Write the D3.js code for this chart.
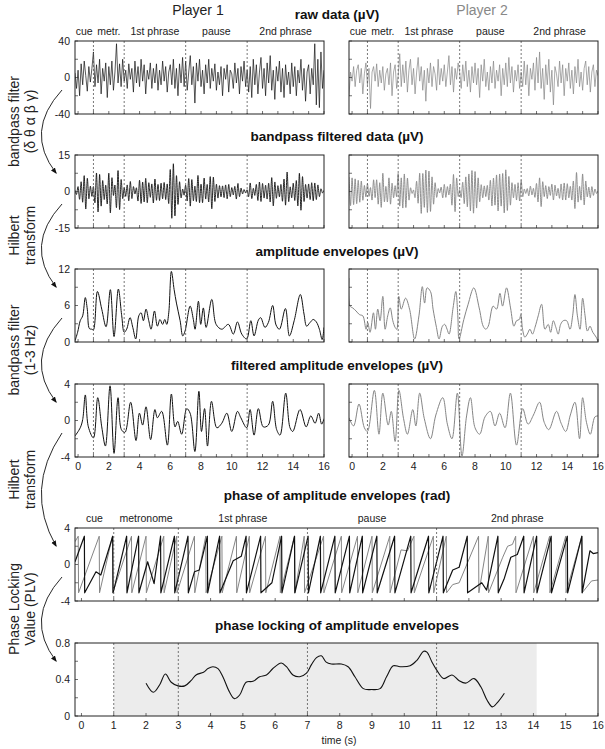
<!DOCTYPE html>
<head>
<meta charset="UTF-8">
<style>
  *{ margin: 0px; }
  svg{ font-family: "Liberation Sans", Arial, sans-serif; }
</style>
<script src="https://cdn.jsdelivr.net/npm/d3@7"></script>
</head>
<body style="background-color: white">
<svg id="fig" width="605" height="749"></svg>
<script>
// ---------- data ----------
var segments = ["cue", "metr.", "1st phrase", "pause", "2nd phrase"];
var segmentsLong = ["cue", "metronome", "1st phrase", "pause", "2nd phrase"];
var segCenters = [0.4, 2, 5, 9, 13.5];
var borders = [1, 3, 7, 11];

// raw data, one value every 0.1 s from -0.2 s
var raw1 = [5,-12,8,-20,15,-8,18,2,-15,12,-5,10,
  28,-10,14,-6,20,-18,10,-4,16,-22,
  12,-8,18,-14,6,37,-6,15,-10,20,
  -4,8,-12,15,-2,10,-16,18,-6,12,
  -10,20,-4,14,-18,8,-2,16,-12,10,
  -6,15,-14,8,-8,18,-4,12,-16,6,
  14,-8,20,-12,10,-20,15,-6,22,-10,
  18,-14,6,24,-8,12,-28,16,-4,20,
  -10,8,-18,14,-6,20,-12,10,-4,15,
  -14,6,-8,12,-20,10,-2,14,-16,8,
  4,-12,16,-6,10,-18,12,-4,18,-10,
  8,-16,12,-22,20,-8,14,-18,6,22,
  -12,10,-20,16,-6,24,-14,8,-24,12,
  -4,18,-16,10,-22,14,-8,6,-18,16,
  -10,12,-20,8,-6,20,-14,10,-26,6,
  14,-18,10,-8,37,-30,20,-33,28,-12,
  8];
var raw2 = [-20,6,-4,12,-10,8,14,-6,10,-18,4,16,
  -8,10,-34,6,12,-4,15,-10,8,-6,
  12,-14,4,10,-8,16,-20,6,14,-12,
  2,26,-10,14,-6,18,-16,8,20,-8,
  10,-18,6,22,-4,12,-14,8,-26,10,
  -6,16,-10,12,4,-14,20,-8,10,-4,
  14,-10,6,24,-8,12,-16,10,-2,16,
  6,-12,14,-4,18,-10,8,-16,12,-6,
  16,-8,10,-22,14,-4,20,-10,6,-14,
  12,-6,18,-12,8,-4,14,-20,10,-8,
  16,-10,22,-6,12,-16,8,-4,14,-12,
  6,-10,18,-8,14,-20,10,-2,16,-14,
  22,-6,28,-12,10,-24,14,-8,20,-16,
  8,-30,12,4,-10,18,-6,14,-20,10,
  -4,16,-12,8,-18,12,-6,20,-10,6,
  -14,10,18,-8,12,-16,6,14,-10,8,
  2];

// bandpass filtered data: successive extrema, every 0.1 s from -0.2 s
var band1 = [0.5,-1.2,2.0,-3.2,4.0,-4.4,6.5,-7.2,5.4,-3.0,2.2,-2.0,
  2.0,-4.6,7.6,-8.4,7.0,-6.0,4.5,-3.3,2.6,-5.1,
  7.5,-8.8,5.6,-1.6,2.6,-6.6,8.6,-7.4,4.9,-2.9,
  1.6,-2.0,2.7,-3.8,4.1,-2.9,2.0,-1.0,1.5,-3.9,
  4.6,-4.9,3.9,-4.3,5.4,-4.6,3.6,-2.4,3.1,-4.7,
  5.1,-3.6,2.9,-3.7,3.4,-3.0,3.7,-3.3,3.1,-4.9,
  9.0,-11.0,11.4,-10.0,6.5,-5.3,4.0,-2.6,1.0,-1.5,
  2.6,-3.9,5.3,-6.0,4.9,-3.8,2.2,-4.1,6.6,-4.6,
  3.0,-4.6,5.5,-3.1,2.9,-4.3,6.1,-7.1,5.9,-4.1,
  3.0,-2.7,2.4,-2.2,2.3,-2.5,2.7,-3.0,2.9,-2.1,
  1.6,-1.4,2.1,-3.1,3.3,-2.1,1.4,-1.0,0.8,-0.6,
  0.7,-2.1,3.5,-2.9,1.3,-1.6,2.9,-3.7,3.9,-4.1,
  3.3,-2.7,2.6,-3.1,3.4,-4.3,5.7,-5.9,3.9,-2.8,
  2.4,-2.2,2.9,-4.0,5.1,-5.6,8.0,-4.1,1.9,-2.6,
  3.4,-3.7,4.5,-5.9,7.5,-7.7,6.1,-4.1,2.9,-2.7,
  3.1,-3.3,3.6,-3.8,3.5,-3.3,2.7,-2.1,1.1,-0.6,
  0.5];
var band2 = [6.0,-5.8,5.6,-5.4,5.2,-5.0,4.6,-4.4,4.3,-3.6,2.5,-2.2,
  3.2,-2.0,1.6,-3.5,4.8,-2.5,4.8,-5.2,3.6,-6.5,
  7.5,-4.2,2.1,-4.3,5.6,-5.2,3.4,-2.6,2.4,-2.1,
  7.4,-6.0,5.6,-6.8,7.2,-6.6,5.5,-3.5,1.5,-0.8,
  0.6,-2.5,4.2,-4.8,7.5,-9.0,7.4,-6.5,8.8,-8.6,
  8.4,-8.2,6.0,-5.2,3.6,-2.4,1.2,-0.6,1.8,-2.6,
  2.9,-2.4,2.0,-1.4,3.0,-5.6,7.0,-8.3,5.5,-2.0,
  0.8,-2.5,3.8,-5.0,6.0,-6.3,7.2,-8.0,8.6,-8.9,
  8.2,-6.8,5.6,-4.2,2.8,-2.6,2.3,-2.1,2.5,-3.5,
  4.6,-5.9,5.5,-5.6,6.8,-8.0,7.2,-6.0,7.4,-8.8,
  8.9,-7.8,6.2,-5.6,3.6,-2.6,2.9,-3.5,3.6,-3.9,
  4.5,-2.1,1.0,-0.8,1.2,-1.8,2.2,-1.4,1.3,-2.4,
  3.3,-4.3,5.6,-6.2,4.0,-2.1,2.4,-2.9,2.0,-1.6,
  3.0,-3.5,2.6,-1.8,1.3,-2.8,3.1,-3.5,3.5,-3.5,
  3.2,-2.6,2.1,-3.5,4.3,-7.0,7.8,-4.3,2.1,-3.5,
  7.2,-5.5,4.3,-2.2,1.8,-2.6,2.0,-1.6,1.0,-0.8,
  0.3];

// amplitude envelopes [time, µV]
var amp1 = [[-0.2,0.2],[-0.03,1.6],[0.14,3.5],[0.3,4.3],[0.47,7.3],[0.6,5.4],[0.74,2.2],[0.9,2.1],[1.0,2.0],
  [1.26,8.3],[1.54,5.4],[1.82,2.5],[2.1,8.6],[2.34,0.9],[2.62,8.7],[2.84,4.3],[3.0,1.6],[3.16,2.1],
  [3.38,4.0],[3.56,2.4],[3.75,0.5],[3.95,4.3],[4.1,4.8],[4.25,3.5],[4.42,5.4],[4.6,3.5],[4.75,2.1],
  [4.97,5.1],[5.16,2.6],[5.33,3.7],[5.5,2.9],[5.64,3.7],[5.77,2.9],[5.9,4.8],[6.07,11.6],[6.25,8.6],
  [6.4,6.4],[6.64,3.5],[6.81,1.0],[6.96,1.8],[7.29,5.9],[7.5,3.7],[7.61,2.1],[7.83,6.7],[7.98,2.9],
  [8.15,5.6],[8.33,2.4],[8.7,7.0],[8.98,2.9],[9.35,2.1],[9.78,2.9],[10.1,1.3],[10.37,3.3],[10.65,1.3],
  [10.97,0.5],[11.24,3.5],[11.45,1.0],[11.73,3.6],[11.88,4.0],[12.16,2.4],[12.38,3.2],[12.66,6.0],
  [12.88,2.8],[13.1,2.1],[13.49,5.5],[13.75,1.0],[14.06,3.5],[14.46,7.8],[14.7,4.6],[14.87,2.6],
  [15.09,3.2],[15.3,3.7],[15.5,3.3],[15.7,2.1],[15.88,0.4],[16.0,2.4]];
var amp2 = [[-0.2,10.5],[-0.13,5.9],[0.04,5.6],[0.26,5.1],[0.48,4.5],[0.7,4.3],[0.91,2.1],[1.02,3.2],
  [1.17,1.6],[1.39,4.8],[1.52,2.1],[1.67,5.4],[1.82,3.5],[2.0,7.5],[2.15,2.1],[2.32,4.3],[2.48,5.6],
  [2.65,3.5],[2.8,2.4],[2.91,2.1],[3.04,7.5],[3.2,5.4],[3.48,7.2],[3.74,5.4],[4.07,0.5],[4.35,4.3],
  [4.57,9.1],[4.72,6.4],[4.88,8.9],[5.1,8.3],[5.27,5.4],[5.49,2.4],[5.66,0.5],[5.88,2.6],[6.03,2.9],
  [6.18,2.1],[6.31,1.3],[6.57,5.6],[6.75,8.3],[6.88,4.3],[6.96,0.5],[7.27,3.7],[7.55,6.2],[7.92,8.9],
  [8.27,5.6],[8.53,2.6],[8.7,2.1],[8.86,2.6],[9.18,5.9],[9.4,5.4],[9.62,8.0],[9.79,5.9],[10.05,8.9],
  [10.31,5.6],[10.53,2.6],[10.7,3.5],[10.88,3.7],[10.98,4.5],[11.09,2.1],[11.24,0.8],[11.4,1.3],
  [11.57,2.1],[11.74,1.3],[11.9,2.4],[12.11,4.3],[12.33,6.2],[12.55,2.1],[12.76,2.9],[12.92,1.6],
  [13.09,3.5],[13.26,2.4],[13.41,1.3],[13.57,2.9],[13.74,3.5],[13.96,3.5],[14.18,2.1],[14.35,4.3],
  [14.5,7.8],[14.66,4.3],[14.83,2.1],[15.0,7.2],[15.16,4.3],[15.31,1.8],[15.48,2.6],[15.66,1.6],
  [15.88,0.8],[15.98,0.2]];

// filtered amplitude envelopes (1-3 Hz) [time, µV]
var env1 = [[-0.2,-1.7],[0.14,-0.8],[0.3,0.1],[0.47,2.8],[0.67,-0.7],[1.0,-1.9],[1.28,2.5],[1.54,-0.7],
  [1.78,-2.8],[2.08,3.8],[2.34,-3.6],[2.6,2.5],[2.82,-1.0],[3.05,-1.3],[3.42,2.0],[3.77,-2.2],[3.99,0.8],
  [4.2,-0.5],[4.42,1.5],[4.72,-2.1],[5.0,1.2],[5.16,0.3],[5.44,1.0],[5.81,-2.7],[6.07,2.9],[6.31,-0.7],
  [6.48,-0.1],[6.74,-1.5],[7.07,1.3],[7.29,0.8],[7.6,-3.4],[7.86,3.2],[8.03,-1.2],[8.23,1.3],[8.42,-2.8],
  [8.68,2.1],[9.03,-0.8],[9.35,-0.3],[9.68,0.8],[10.0,-1.2],[10.37,1.0],[10.59,0.3],[10.97,-0.8],
  [11.19,1.2],[11.45,-1.6],[11.73,1.3],[12.05,-0.7],[12.38,-0.5],[12.66,2.1],[12.92,-1.0],[13.14,-1.6],
  [13.51,3.0],[13.79,-0.8],[13.97,-1.2],[14.44,1.2],[14.84,-0.7],[15.14,0.5],[15.42,-0.3],[15.65,0.8],
  [15.85,-0.4],[16.0,0.2]];
var env2 = [[-0.2,0.3],[0.1,-0.6],[0.45,1.8],[0.8,-0.8],[1.0,-1.2],[1.45,3.3],[1.75,-1.5],[2.0,3.0],
  [2.35,-0.5],[2.55,1.0],[2.8,-2.3],[3.05,3.3],[3.35,0.2],[3.6,-1.5],[3.95,1.2],[4.15,-0.6],[4.4,3.0],
  [4.7,0.2],[5.1,-2.0],[5.45,0.6],[5.9,2.5],[6.2,-0.4],[6.5,-2.0],[6.85,3.0],[7.15,-3.9],[7.45,0.5],
  [7.7,2.5],[8.0,-0.8],[8.3,-1.5],[8.65,0.4],[9.0,1.0],[9.3,-0.6],[9.6,0.8],[9.95,-0.8],[10.3,3.0],
  [10.7,-2.7],[11.1,1.3],[11.45,-0.4],[11.8,0.6],[12.2,2.0],[12.5,-0.2],[12.8,-1.0],[13.3,1.0],
  [13.6,-0.3],[13.9,-1.2],[14.2,0.6],[14.5,2.0],[14.8,-2.0],[15.0,2.5],[15.25,-0.2],[15.5,-1.5],
  [15.8,0.4],[16.0,0.5]];

// phase of amplitude envelopes [time, rad]
var phase1 = [[-0.2,0.3],[0.09,3.1],[0.1,-3.1],[0.45,-0.8],[0.6,-1.15],[0.97,3.1],[0.98,-3.1],[1.40,3.1],
  [1.41,-3.1],[1.77,3.1],[1.78,-3.1],[2.05,0.3],[2.25,-2.1],[2.45,3.1],[2.46,-3.1],[2.88,3.1],[2.89,-3.1],
  [3.3,3.1],[3.31,-3.1],[3.5,-0.8],[3.65,-0.6],[3.9,3.1],[3.91,-3.1],[4.28,3.1],[4.29,-3.1],[4.7,0.4],
  [4.95,0.9],[5.1,3.1],[5.11,-3.1],[5.55,3.1],[5.56,-3.1],[5.9,-2.0],[6.2,3.1],[6.21,-3.1],[6.6,3.1],
  [6.61,-3.1],[7.02,3.1],[7.03,-3.1],[7.4,3.1],[7.41,-3.1],[7.85,3.1],[7.86,-3.1],[8.3,3.1],[8.31,-3.1],
  [8.7,3.1],[8.71,-3.1],[9.15,3.1],[9.16,-3.1],[9.7,3.1],[9.71,-3.1],[10.2,3.1],[10.21,-3.1],[10.75,3.1],
  [10.76,-3.1],[11.2,3.1],[11.21,-3.1],[11.5,-0.6],[11.7,-0.3],[11.95,3.1],[11.96,-3.1],[12.4,-2.0],
  [12.55,-2.8],[12.9,3.1],[12.91,-3.1],[13.1,-1.5],[13.3,0.8],[13.5,1.1],[13.7,3.1],[13.71,-3.1],
  [14.1,3.1],[14.11,-3.1],[14.55,3.1],[14.56,-3.1],[15.05,3.1],[15.06,-3.1],[15.5,3.1],[15.51,-3.1],
  [15.75,1.5],[15.85,1.2],[16.0,1.3]];
var phase2 = [[-0.2,2.5],[-0.1,3.1],[-0.09,-3.1],[0.55,3.1],[0.56,-3.1],[0.96,3.1],[0.97,-3.1],[1.55,3.1],
  [1.56,-3.1],[2.0,3.1],[2.01,-3.1],[2.55,3.1],[2.56,-3.1],[2.95,3.1],[2.96,-3.1],[3.5,3.1],[3.51,-3.1],
  [3.85,3.1],[3.86,-3.1],[4.35,3.1],[4.36,-3.1],[4.8,3.1],[4.81,-3.1],[5.2,3.1],[5.21,-3.1],[5.7,3.1],
  [5.71,-3.1],[6.15,3.1],[6.16,-3.1],[6.6,3.1],[6.61,-3.1],[6.9,3.1],[6.91,-3.1],[7.5,3.1],[7.51,-3.1],
  [8.05,3.1],[8.06,-3.1],[8.55,3.1],[8.56,-3.1],[9.0,3.1],[9.01,-3.1],[9.55,3.1],[9.56,-3.1],[9.9,1.6],
  [10.1,1.5],[10.3,3.1],[10.31,-3.1],[10.9,3.1],[10.91,-3.1],[11.3,3.1],[11.31,-3.1],[11.5,-2.2],
  [11.7,-2.0],[12.3,3.1],[12.31,-3.1],[12.6,3.1],[12.61,-3.1],[13.05,0.8],[13.2,2.0],[13.35,2.2],
  [13.45,3.1],[13.46,-3.1],[14.0,3.1],[14.01,-3.1],[14.5,3.1],[14.51,-3.1],[15.0,3.1],[15.01,-3.1],
  [15.5,3.1],[15.51,-3.1],[15.8,-1.8],[16.0,-1.7]];

// phase locking value [time, PLV]
var plv = [[2.0,0.36],[2.23,0.26],[2.42,0.34],[2.6,0.46],[2.78,0.37],[2.99,0.33],[3.2,0.33],[3.4,0.39],
  [3.55,0.45],[3.78,0.48],[3.92,0.52],[4.07,0.54],[4.23,0.52],[4.38,0.43],[4.59,0.26],[4.74,0.19],
  [4.9,0.23],[5.1,0.37],[5.31,0.38],[5.52,0.43],[5.73,0.45],[5.93,0.52],[6.19,0.58],[6.35,0.54],
  [6.55,0.45],[6.76,0.43],[6.97,0.47],[7.12,0.56],[7.28,0.64],[7.43,0.66],[7.58,0.59],[7.74,0.57],
  [8.05,0.57],[8.26,0.54],[8.47,0.43],[8.73,0.30],[8.99,0.29],[9.25,0.30],[9.45,0.43],[9.66,0.55],
  [9.87,0.54],[10.18,0.55],[10.39,0.61],[10.6,0.71],[10.7,0.70],[10.86,0.59],[11.01,0.50],[11.22,0.41],
  [11.48,0.45],[11.69,0.39],[11.9,0.36],[12.16,0.41],[12.37,0.32],[12.57,0.17],[12.73,0.10],
  [12.89,0.15],[13.1,0.25]];
var plvShade = [1, 14.1];

var sideLabels = [["bandpass filter", "(\u03b4 \u03b8 \u03b1 \u03b2 \u03b3)"], ["Hilbert", "transform"],
  ["bandpass filter", "(1-3 Hz)"], ["Hilbert", "transform"], ["Phase Locking", "Value (PLV)"]];
var titles = ["raw data (\u00b5V)", "bandpass filtered data (\u00b5V)", "amplitude envelopes (\u00b5V)",
  "filtered amplitude envelopes (\u00b5V)", "phase of amplitude envelopes (rad)", "phase locking of amplitude envelopes"];

// ---------- layout ----------
var svg = d3.select("#fig");
var rowTop = [41, 155, 269, 384, 528, 643], H = 73;
var titleY = [14, 136, 251, 365, 495, 625];
var xL = d3.scaleLinear().domain([-0.2, 16]).range([75, 324]);
var xR = d3.scaleLinear().domain([-0.2, 16]).range([349, 598]);
var xW = d3.scaleLinear().domain([-0.2, 16]).range([75, 598]);
var c1 = "#111", c2 = "#858585", dashC = "#555";
var clipN = 0;

function panel(x, top, domain, ticks, labels, showLabels){
  var y = d3.scaleLinear().domain(domain).range([top + H, top]);
  var g = svg.append("g");
  var id = "clip" + (clipN++);
  svg.append("clipPath").attr("id", id).append("rect")
    .attr("x", x.range()[0]).attr("y", top).attr("width", x.range()[1] - x.range()[0]).attr("height", H);
  var body = g.append("g").attr("clip-path", "url(#" + id + ")");
  var p = {x: x, y: y, g: g, body: body, top: top};
  p.finish = function(){
    g.selectAll(".bd").data(borders).enter().append("line")
      .attr("x1", d => x(d)).attr("x2", d => x(d)).attr("y1", top).attr("y2", top + H)
      .attr("stroke", dashC).attr("stroke-width", 0.8).attr("stroke-dasharray", "2,2");
    // inner ticks
    g.selectAll(".xt").data(d3.range(0, 17)).enter().append("line")
      .attr("x1", d => x(d)).attr("x2", d => x(d)).attr("y1", top + H).attr("y2", top + H - 3)
      .attr("stroke", "#333").attr("stroke-width", 0.7);
    g.selectAll(".yt").data(ticks).enter().append("line")
      .attr("x1", x.range()[0]).attr("x2", x.range()[0] + 3).attr("y1", d => y(d)).attr("y2", d => y(d))
      .attr("stroke", "#333").attr("stroke-width", 0.7);
    g.append("rect").attr("x", x.range()[0]).attr("y", top)
      .attr("width", x.range()[1] - x.range()[0]).attr("height", H)
      .attr("fill", "none").attr("stroke", "#222").attr("stroke-width", 1);
    if(showLabels){
      g.selectAll(".yl").data(labels).enter().append("text")
        .attr("x", x.range()[0] - 5).attr("y", d => y(d)).attr("dy", "0.35em")
        .attr("text-anchor", "end").attr("font-size", "10.5px").attr("fill", "#222")
        .text(d => d);
    }
  };
  return p;
}

function drawLine(p, data, color, width, curve){
  p.body.append("path").datum(data)
    .attr("fill", "none").attr("stroke", color).attr("stroke-width", width).attr("stroke-linejoin", "round")
    .attr("d", d3.line().x(d => p.x(d[0])).y(d => p.y(d[1])).curve(curve || d3.curveLinear));
}

function indexed(vals){
  return vals.map((v, i) => [-0.2 + i * 0.1, v]);
}

function xLabels(x, top, vals){
  svg.append("g").selectAll("text").data(vals).enter().append("text")
    .attr("x", d => x(d)).attr("y", top + H + 13).attr("text-anchor", "middle")
    .attr("font-size", "10.5px").attr("fill", "#222").text(d => d);
}

function segLabels(x, yy, names){
  svg.append("g").selectAll("text").data(names).enter().append("text")
    .attr("x", (d, i) => x(segCenters[i])).attr("y", yy).attr("text-anchor", "middle")
    .attr("font-size", "10.5px").attr("fill", "#222").text(d => d);
}

// headers
svg.append("text").attr("x", 198).attr("y", 15).attr("text-anchor", "middle")
  .attr("font-size", "14px").attr("fill", "#222").text("Player 1");
svg.append("text").attr("x", 482).attr("y", 15).attr("text-anchor", "middle")
  .attr("font-size", "14px").attr("fill", "#888").text("Player 2");
titles.forEach(function(t, i){
  svg.append("text").attr("x", 337).attr("y", titleY[i] + 5).attr("text-anchor", "middle")
    .attr("font-size", "13.5px").attr("font-weight", "bold").attr("fill", "#111").text(t);
});
segLabels(xL, 35, segments);
segLabels(xR, 35, segments);
segLabels(xW, 522, segmentsLong);

// row 1: raw data
[[xL, raw1, c1, true], [xR, raw2, c2, false]].forEach(function(s){
  var p = panel(s[0], rowTop[0], [-40, 40], [-40, -20, 0, 20, 40], [40, 0, -40], s[3]);
  drawLine(p, indexed(s[1]), s[2], 0.7);
  p.finish();
});
// row 2: bandpass
[[xL, band1, c1, true], [xR, band2, c2, false]].forEach(function(s){
  var p = panel(s[0], rowTop[1], [-15, 15], [-15, -7.5, 0, 7.5, 15], [15, 0, -15], s[3]);
  drawLine(p, indexed(s[1]), s[2], 0.9, d3.curveCardinal.tension(0.2));
  p.finish();
});
// row 3: amplitude envelopes
[[xL, amp1, c1, true], [xR, amp2, c2, false]].forEach(function(s){
  var p = panel(s[0], rowTop[2], [0, 12], [0, 3, 6, 9, 12], [12, 6, 0], s[3]);
  drawLine(p, s[1], s[2], 1, d3.curveCatmullRom);
  p.finish();
});
// row 4: filtered envelopes
[[xL, env1, c1, true], [xR, env2, c2, false]].forEach(function(s){
  var p = panel(s[0], rowTop[3], [-4, 4], [-4, -2, 0, 2, 4], [4, 0, -4], s[3]);
  drawLine(p, s[1], s[2], 1, d3.curveCatmullRom);
  p.finish();
  xLabels(s[0], rowTop[3], d3.range(0, 17, 2));
});
// row 5: phase
var pp = panel(xW, rowTop[4], [-4, 4], [-4, -2, 0, 2, 4], [4, 0, -4], true);
drawLine(pp, phase2, c2, 1);
drawLine(pp, phase1, c1, 1.2);
pp.finish();
// row 6: PLV
var pl = panel(xW, rowTop[5], [0, 0.8], [0, 0.2, 0.4, 0.6, 0.8], [0.8, 0.4, 0], true);
pl.body.append("rect").attr("x", xW(plvShade[0])).attr("y", rowTop[5])
  .attr("width", xW(plvShade[1]) - xW(plvShade[0])).attr("height", H).attr("fill", "#ececec");
drawLine(pl, plv, c1, 1.1, d3.curveCatmullRom);
pl.finish();
xLabels(xW, rowTop[5], d3.range(0, 17));
svg.append("text").attr("x", 339).attr("y", 744).attr("text-anchor", "middle")
  .attr("font-size", "10.5px").attr("fill", "#222").text("time (s)");

// side arrows and labels
svg.append("defs").append("marker").attr("id", "head").attr("viewBox", "0 0 10 10")
  .attr("refX", 8).attr("refY", 5).attr("markerWidth", 7).attr("markerHeight", 7)
  .attr("orient", "auto").append("path").attr("d", "M0,1 L10,5 L0,9 z").attr("fill", "#111");
sideLabels.forEach(function(lab, i){
  var y0 = rowTop[i] + 49, y1 = rowTop[i + 1] + 18, ym = (y0 + y1) / 2;
  svg.append("path").attr("d", "M62," + y0 + " Q24," + ym + " 56," + y1)
    .attr("fill", "none").attr("stroke", "#111").attr("stroke-width", 0.9).attr("marker-end", "url(#head)");
  var t = svg.append("text").attr("transform", "translate(0," + (ym - 10) + ") rotate(-90)")
    .attr("text-anchor", "middle").attr("font-size", "14px").attr("fill", "#222");
  t.append("tspan").attr("x", 0).attr("y", 19).text(lab[0]);
  t.append("tspan").attr("x", 0).attr("y", 35).text(lab[1]);
});
</script>
</body>
